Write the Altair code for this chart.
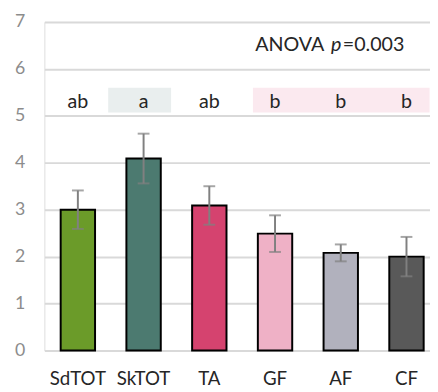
import altair as alt
import pandas as pd

categories = ["SdTOT", "SkTOT", "TA", "GF", "AF", "CF"]
means = [3.0, 4.09, 3.09, 2.49, 2.08, 2.0]
errors = [0.41, 0.53, 0.41, 0.39, 0.18, 0.42]
bar_colors = ["#6b9b29", "#4c7a70", "#d5436f", "#efb1c6", "#b1b1bd", "#595959"]
letters = ["ab", "a", "ab", "b", "b", "b"]

letter_y = 5.3
box_lo = 5.07
box_hi = 5.6
anova_y = 6.5

df = pd.DataFrame({"cat": categories, "mean": means, "err": errors,
                   "color": bar_colors, "letter": letters})
df["lo"] = df["mean"] - df["err"]
df["hi"] = df["mean"] + df["err"]
df["ly"] = letter_y

FONT = "Lato"

xscale = alt.Scale(domain=categories, paddingInner=0.477, paddingOuter=0.172, align=0.72)
yscale = alt.Scale(domain=[0, 7], nice=False)

x = alt.X("cat:N", scale=xscale,
          axis=alt.Axis(title=None, labelAngle=0, domain=False, ticks=False,
                        labelFontSize=19, labelColor="#262626", labelFont=FONT,
                        labelAlign="center", labelBaseline="top",
                        labelPadding=20))
y_axis = alt.Axis(title=None, values=list(range(8)), domain=False, ticks=False,
                  grid=True, gridColor="#d9d9d9", gridWidth=2,
                  labelFontSize=18, labelColor="#8c8c8c", labelFont=FONT,
                  labelPadding=20)

base = alt.Chart(df)

box_a = alt.Chart(pd.DataFrame({"s": ["SkTOT"], "e": ["SkTOT"], "lo": [box_lo], "hi": [box_hi]})).mark_rect(
    color="#e9eeee", xOffset=-18.5, x2Offset=10.5).encode(
    x=alt.X("s:N", scale=xscale, bandPosition=0),
    x2=alt.X2("e:N", bandPosition=1),
    y=alt.Y("lo:Q", scale=yscale),
    y2="hi:Q",
)
box_b = alt.Chart(pd.DataFrame({"s": ["GF"], "e": ["CF"], "lo": [box_lo], "hi": [box_hi]})).mark_rect(
    color="#fbe9ef", xOffset=-5, x2Offset=6).encode(
    x=alt.X("s:N", scale=xscale, bandPosition=0),
    x2=alt.X2("e:N", bandPosition=1),
    y=alt.Y("lo:Q", scale=yscale),
    y2="hi:Q",
)

bars = base.mark_bar(stroke="black", strokeWidth=2).encode(
    x=x,
    y=alt.Y("mean:Q", scale=yscale, axis=y_axis),
    color=alt.Color("color:N", scale=None),
)
err = base.mark_rule(color="#808080", strokeWidth=2).encode(
    x=alt.X("cat:N", scale=xscale), y=alt.Y("lo:Q", scale=yscale), y2="hi:Q")
cap_lo = base.mark_tick(color="#808080", thickness=2, size=12, orient="horizontal").encode(
    x=alt.X("cat:N", scale=xscale), y=alt.Y("lo:Q", scale=yscale))
cap_hi = base.mark_tick(color="#808080", thickness=2, size=12, orient="horizontal").encode(
    x=alt.X("cat:N", scale=xscale), y=alt.Y("hi:Q", scale=yscale))

letter_text = base.mark_text(fontSize=20, font=FONT, color="#262626", baseline="middle").encode(
    x=alt.X("cat:N", scale=xscale), y=alt.Y("ly:Q", scale=yscale), text="letter:N")

anova_df = pd.DataFrame({"c": ["AF"], "y": [anova_y]})
anova1 = alt.Chart(anova_df).mark_text(text="ANOVA", align="left", baseline="middle", dx=-87,
                                       fontSize=20, font=FONT, color="#262626").encode(
    x=alt.X("c:N", scale=xscale), y=alt.Y("y:Q", scale=yscale))
anova2 = alt.Chart(anova_df).mark_text(text="p", align="left", baseline="middle", dx=-10,
                                       fontSize=20, font=FONT, fontStyle="italic", color="#262626").encode(
    x=alt.X("c:N", scale=xscale), y=alt.Y("y:Q", scale=yscale))
anova3 = alt.Chart(anova_df).mark_text(text="=0.003", align="left", baseline="middle", dx=2,
                                       fontSize=20, font=FONT, color="#262626").encode(
    x=alt.X("c:N", scale=xscale), y=alt.Y("y:Q", scale=yscale))

chart = alt.layer(box_a, box_b, bars, err, cap_lo, cap_hi, letter_text, anova1, anova2, anova3).properties(
    width=392, height=334,
    autosize=alt.AutoSizeParams(type="none"),
    padding={"left": 37, "top": 11, "right": 0, "bottom": 39},
).configure_view(stroke=None).configure(background="white")

chart.save("out.html", embed_options={"renderer": "svg", "actions": False})
